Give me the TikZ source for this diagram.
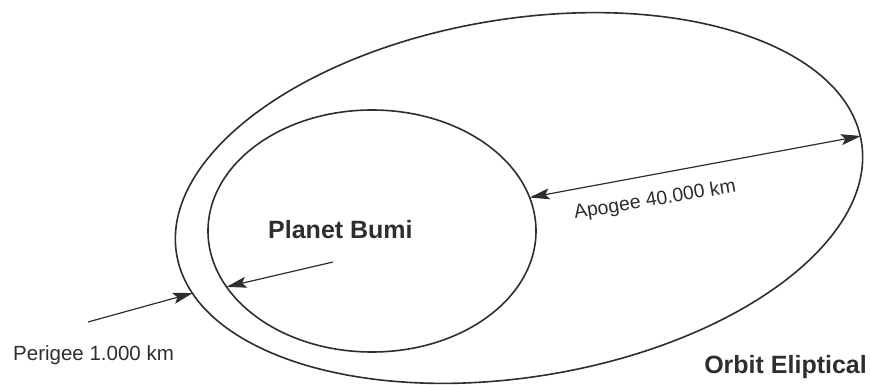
\documentclass[tikz,border=0pt]{standalone}
\usepackage{fontspec}
\setmainfont{Liberation Sans}
\usetikzlibrary{shapes.geometric,arrows.meta}
\definecolor{ink}{HTML}{2E2E2E}
\begin{document}
\begin{tikzpicture}[x=1pt,y=-1pt,
  orbitline/.style={ellipse, draw=ink, line width=1.6pt, inner sep=0pt, outer sep=0pt},
  pointer/.style={draw=ink, line width=1.2pt, -{Stealth[length=20pt,width=11pt,inset=4pt]}},
  dpointer/.style={draw=ink, line width=1.2pt, {Stealth[length=20pt,width=11pt,inset=4pt]}-{Stealth[length=20pt,width=11pt,inset=4pt]}},
  lbl/.style={text=ink, inner sep=0pt, font=\fontsize{20.5}{23}\selectfont},
  alb/.style={text=ink, inner sep=0pt, font=\fontsize{19.5}{22}\selectfont},
  blbl/.style={text=ink, inner sep=0pt, font=\fontsize{25}{28}\selectfont\bfseries}]
\useasboundingbox (0,0) rectangle (870,385);
\fill[white] (0,0) rectangle (870,385);
\node[orbitline, minimum width=694pt, minimum height=358pt, rotate=9.3] (orbit) at (519,198) {};
\node[orbitline, minimum width=328pt, minimum height=242pt] (earth) at (372,231) {};
\coordinate (apR) at (861,136);
\coordinate (peri) at (193,293);
\coordinate (periTail) at (88,322);
\coordinate (earthTail) at (333,262);
\draw[pointer] (periTail) -- (peri);
\draw[pointer] (earthTail) -- (earth.201);
\draw[dpointer] (earth.12) -- (apR);
\node[lbl, anchor=base west] (perigee) at (13,360) {Perigee 1.000 km};
\node[blbl, anchor=base west] (bumi) at (268,238) {Planet Bumi};
\node[blbl, anchor=base east] (orbitlbl) at (867,373) {Orbit Eliptical};
\node[alb, rotate=9.5, anchor=base west] (apogee) at (575,219) {Apogee 40.000 km};
\end{tikzpicture}
\end{document}
